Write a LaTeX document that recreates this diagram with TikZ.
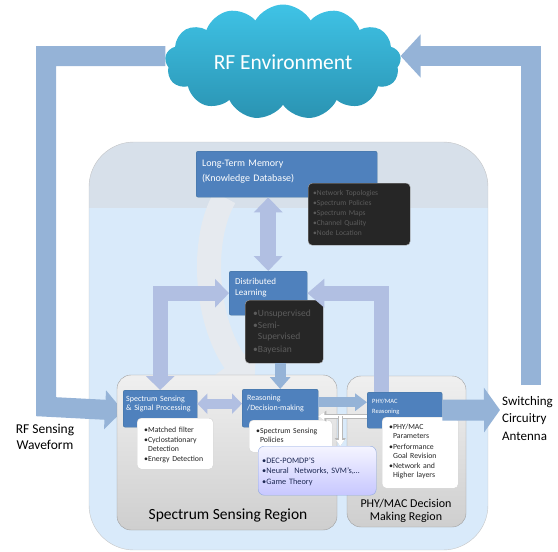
\documentclass[tikz,border=0pt]{standalone}
\usepackage{fontspec}
\setmainfont{Carlito}
\usetikzlibrary{arrows.meta,calc,shapes.symbols}

\definecolor{boxblue}{HTML}{4F81BD}
\definecolor{boxedge}{HTML}{41719C}
\definecolor{bandblue}{HTML}{95B3D7}
\definecolor{lavender}{HTML}{B1BFE2}
\definecolor{cloudtop}{HTML}{3FC3E6}
\definecolor{cloudbot}{HTML}{2A93B2}
\definecolor{zonetop}{HTML}{D7E0EA}
\definecolor{zonelow}{HTML}{D9EAFA}
\definecolor{swooshgray}{HTML}{E6EAEF}
\definecolor{darkfill}{HTML}{262626}
\definecolor{darktext}{HTML}{5C5C5C}
\definecolor{decedge}{HTML}{8EA8E0}
\definecolor{dectext}{HTML}{1F2A55}

\newcommand{\fs}[2]{\fontsize{#1}{#2}\selectfont}
\newcommand{\bul}{\textbullet}
\newcommand{\ind}{\phantom{\textbullet}}

\pgfdeclarelayer{bg}
\pgfdeclarelayer{mid}
\pgfsetlayers{bg,mid,main}

\begin{document}
\begin{tikzpicture}[
    x=1pt, y=-1pt,
    bluebox/.style={draw=boxedge, fill=boxblue, text=white, rounded corners=2pt, align=left, anchor=north west, inner ysep=0pt},
    darkbox/.style={draw=gray!70, fill=darkfill, text=darktext, rounded corners=4pt, align=left, anchor=north west, inner ysep=0pt},
    whitebox/.style={draw=gray!35, fill=white, text=black!85, rounded corners=4pt, align=left, anchor=north west, inner ysep=0pt},
    region/.style={draw=gray!75, top color=gray!12, bottom color=gray!38, rounded corners=14pt, inner sep=0pt},
    band/.style={draw=bandblue, line width=20pt, line join=miter},
    fat/.style={draw=lavender, line join=miter},
    retedge/.style={draw=white, line width=3pt, -{Triangle[width=8pt,length=6pt]},
        preaction={draw=gray!55, line width=4.6pt, -{Triangle[width=10.5pt,length=8pt]}}}
]
\useasboundingbox (0,0) rectangle (558,552);

% Outer zone
\begin{pgfonlayer}{bg}
\begin{scope}
\clip[rounded corners=45pt] (89,142) rectangle (488,550);
\fill[zonelow] (89,142) rectangle (488,550);
\fill[zonetop] (89,142) rectangle (488,208);
\end{scope}
\draw[gray!45, rounded corners=45pt] (89,142) rectangle (488,550);
\end{pgfonlayer}

% Nodes
\node[cloud, cloud puffs=13, cloud puff arc=120, aspect=2.3, minimum width=236pt, minimum height=106pt,
      top color=cloudtop, bottom color=cloudbot, text=white, font=\fs{21.5}{24}] (env) at (283,62) {RF Environment};

\node[region, minimum width=220pt, minimum height=155pt] (ssreg) at (227,452.5) {};
\node[region, minimum width=119pt, minimum height=151pt] (phyreg) at (406.5,451.5) {};
\node[font=\fs{15.5}{18}] (ssregtext) at (228,515) {Spectrum Sensing Region};
\node[font=\fs{12}{12.5}, align=center] (phyregtext) at (406,511) {PHY/MAC Decision\\Making Region};

\node[bluebox, text width=169pt, inner xsep=6pt, text height=15.5pt, text depth=30.5pt, font=\fs{10}{15}] (ltm) at (196,151) {Long-Term Memory\\(Knowledge Database)};
\node[darkbox, text width=92pt, inner xsep=5pt, text height=12.5pt, text depth=49.5pt, font=\fs{7.5}{10}] (ltmx) at (308,183)
    {\bul Network Topologies\\\bul Spectrum Policies\\\bul Spectrum Maps\\\bul Channel Quality\\\bul Node Location};

\node[bluebox, text width=66pt, inner xsep=6pt, text height=13pt, text depth=31pt, font=\fs{9}{11}] (dl) at (229,271) {Distributed\\Learning};
\node[darkbox, text width=62pt, inner xsep=8pt, text height=16.5pt, text depth=46.5pt, font=\fs{9.5}{11.5}] (dlx) at (245,300)
    {\bul Unsupervised\\\bul Semi-\\\ind Supervised\\[1.5pt]\bul Bayesian};

\node[bluebox, text width=68pt, inner xsep=3pt, text height=11.5pt, text depth=25.5pt, font=\fs{8}{8.5}] (ss) at (123,390) {Spectrum Sensing\\\& Signal Processing};
\node[whitebox, text width=62pt, inner xsep=7pt, text height=14.5pt, text depth=36.5pt, font=\fs{7.8}{9.3}] (ssl) at (137,418)
    {\bul Matched filter\\[0.5pt]\bul Cyclostationary\\\ind Detection\\[0.5pt]\bul Energy Detection};

\node[bluebox, text width=66pt, inner xsep=5pt, text height=11.5pt, text depth=26.5pt, font=\fs{8}{10}] (rs) at (242,389) {Reasoning\\/Decision-making};
\node[whitebox, text width=69pt, inner xsep=7pt, text height=13.5pt, text depth=18.5pt, font=\fs{7.8}{9}] (rsl) at (249,420)
    {\bul Spectrum Sensing\\\ind Policies};
\node[draw=decedge, top color=blue!4, bottom color=blue!22, text=dectext, rounded corners=6pt, align=left, anchor=north west,
      inner ysep=0pt, text width=110pt, inner xsep=4pt, text height=17pt, text depth=32pt, font=\fs{8.3}{10.5}] (dec) at (258,446)
    {\bul DEC-POMDP’S\\\bul Neural\ \ Networks, SVM’s,…\\\bul Game Theory};

\node[bluebox, text width=65pt, inner xsep=5pt, text height=11pt, text depth=25pt, font=\fs{6.5}{10}] (phy) at (367,392) {PHY/MAC\\Reasoning};
\node[whitebox, text width=62pt, inner xsep=7pt, text height=12.5pt, text depth=58.5pt, font=\fs{7.8}{9}] (phyl) at (382,417)
    {\bul PHY/MAC\\\ind Parameters\\[1.5pt]\bul Performance\\\ind Goal Revision\\[1.5pt]\bul Network and\\\ind Higher layers};

\node[font=\fs{13.5}{16}, align=center] (rfin) at (45,437) {RF Sensing\\Waveform};
\node[font=\fs{13}{17.5}, align=left, anchor=north west, inner sep=0pt] (swtext) at (502,396) {Switching\\Circuitry\\Antenna};

\coordinate (ant) at (531,385);
\coordinate (sw) at (500,410);

% Arrows
\begin{pgfonlayer}{mid}
\draw[band, -{Triangle[width=38pt,length=18pt]}] ([yshift=6pt]env.west) -| ($(ss.west)+(-77pt,2pt)$) -- ([yshift=-2pt]ss.west);
\draw[band, -{Triangle[width=42pt,length=20pt]}] (ant) |- ([yshift=6pt]env.east);
\draw[swooshgray, line width=24pt, -{Triangle[width=52pt,length=34pt]}] ([xshift=-62pt]ltm.south) .. controls (200,240) and (205,320) .. ([xshift=12pt]rs.north west);
\end{pgfonlayer}

\draw[fat, line width=16pt, {Triangle[width=28pt,length=15pt]}-{Triangle[width=28pt,length=15pt]}] (dl.north |- ltm.south) -- (dl.north);
\draw[fat, line width=15pt, -{Triangle[width=28pt,length=17pt]}] ([xshift=14pt]phy.north west) |- (dl.east);
\draw[fat, line width=15pt, {Triangle[width=28pt,length=14pt]}-{Triangle[width=28pt,length=14pt]}] (dl.west) -| (ss.north);
\draw[fat, draw=bandblue, line width=11pt, -{Triangle[width=20pt,length=12pt]}] (rs.north |- dlx.south) -- (rs.north);
\draw[fat, line width=10pt, {Triangle[width=20pt,length=10pt]}-{Triangle[width=20pt,length=10pt]}] ([yshift=5pt]ss.east) -- ([yshift=5pt]ss.east -| rs.west);
\draw[fat, draw=bandblue, line width=10pt, -{Triangle[width=17pt,length=12pt]}] ([yshift=6pt]rs.east) -- ([yshift=6pt]rs.east -| phy.west);

\coordinate (fork) at ($([yshift=-6pt]phy.west)!0.55!([yshift=-6pt]phy.west -| rs.east)$);
\draw[retedge] ([yshift=-6pt]phy.west) -- ([yshift=-6pt]phy.west -| rs.east);
\draw[retedge] (fork) -- (fork |- dec.north);

\draw[band, line width=21pt, -{Triangle[width=44pt,length=16pt]}] (phy.east) -- (sw);
\end{tikzpicture}
\end{document}
